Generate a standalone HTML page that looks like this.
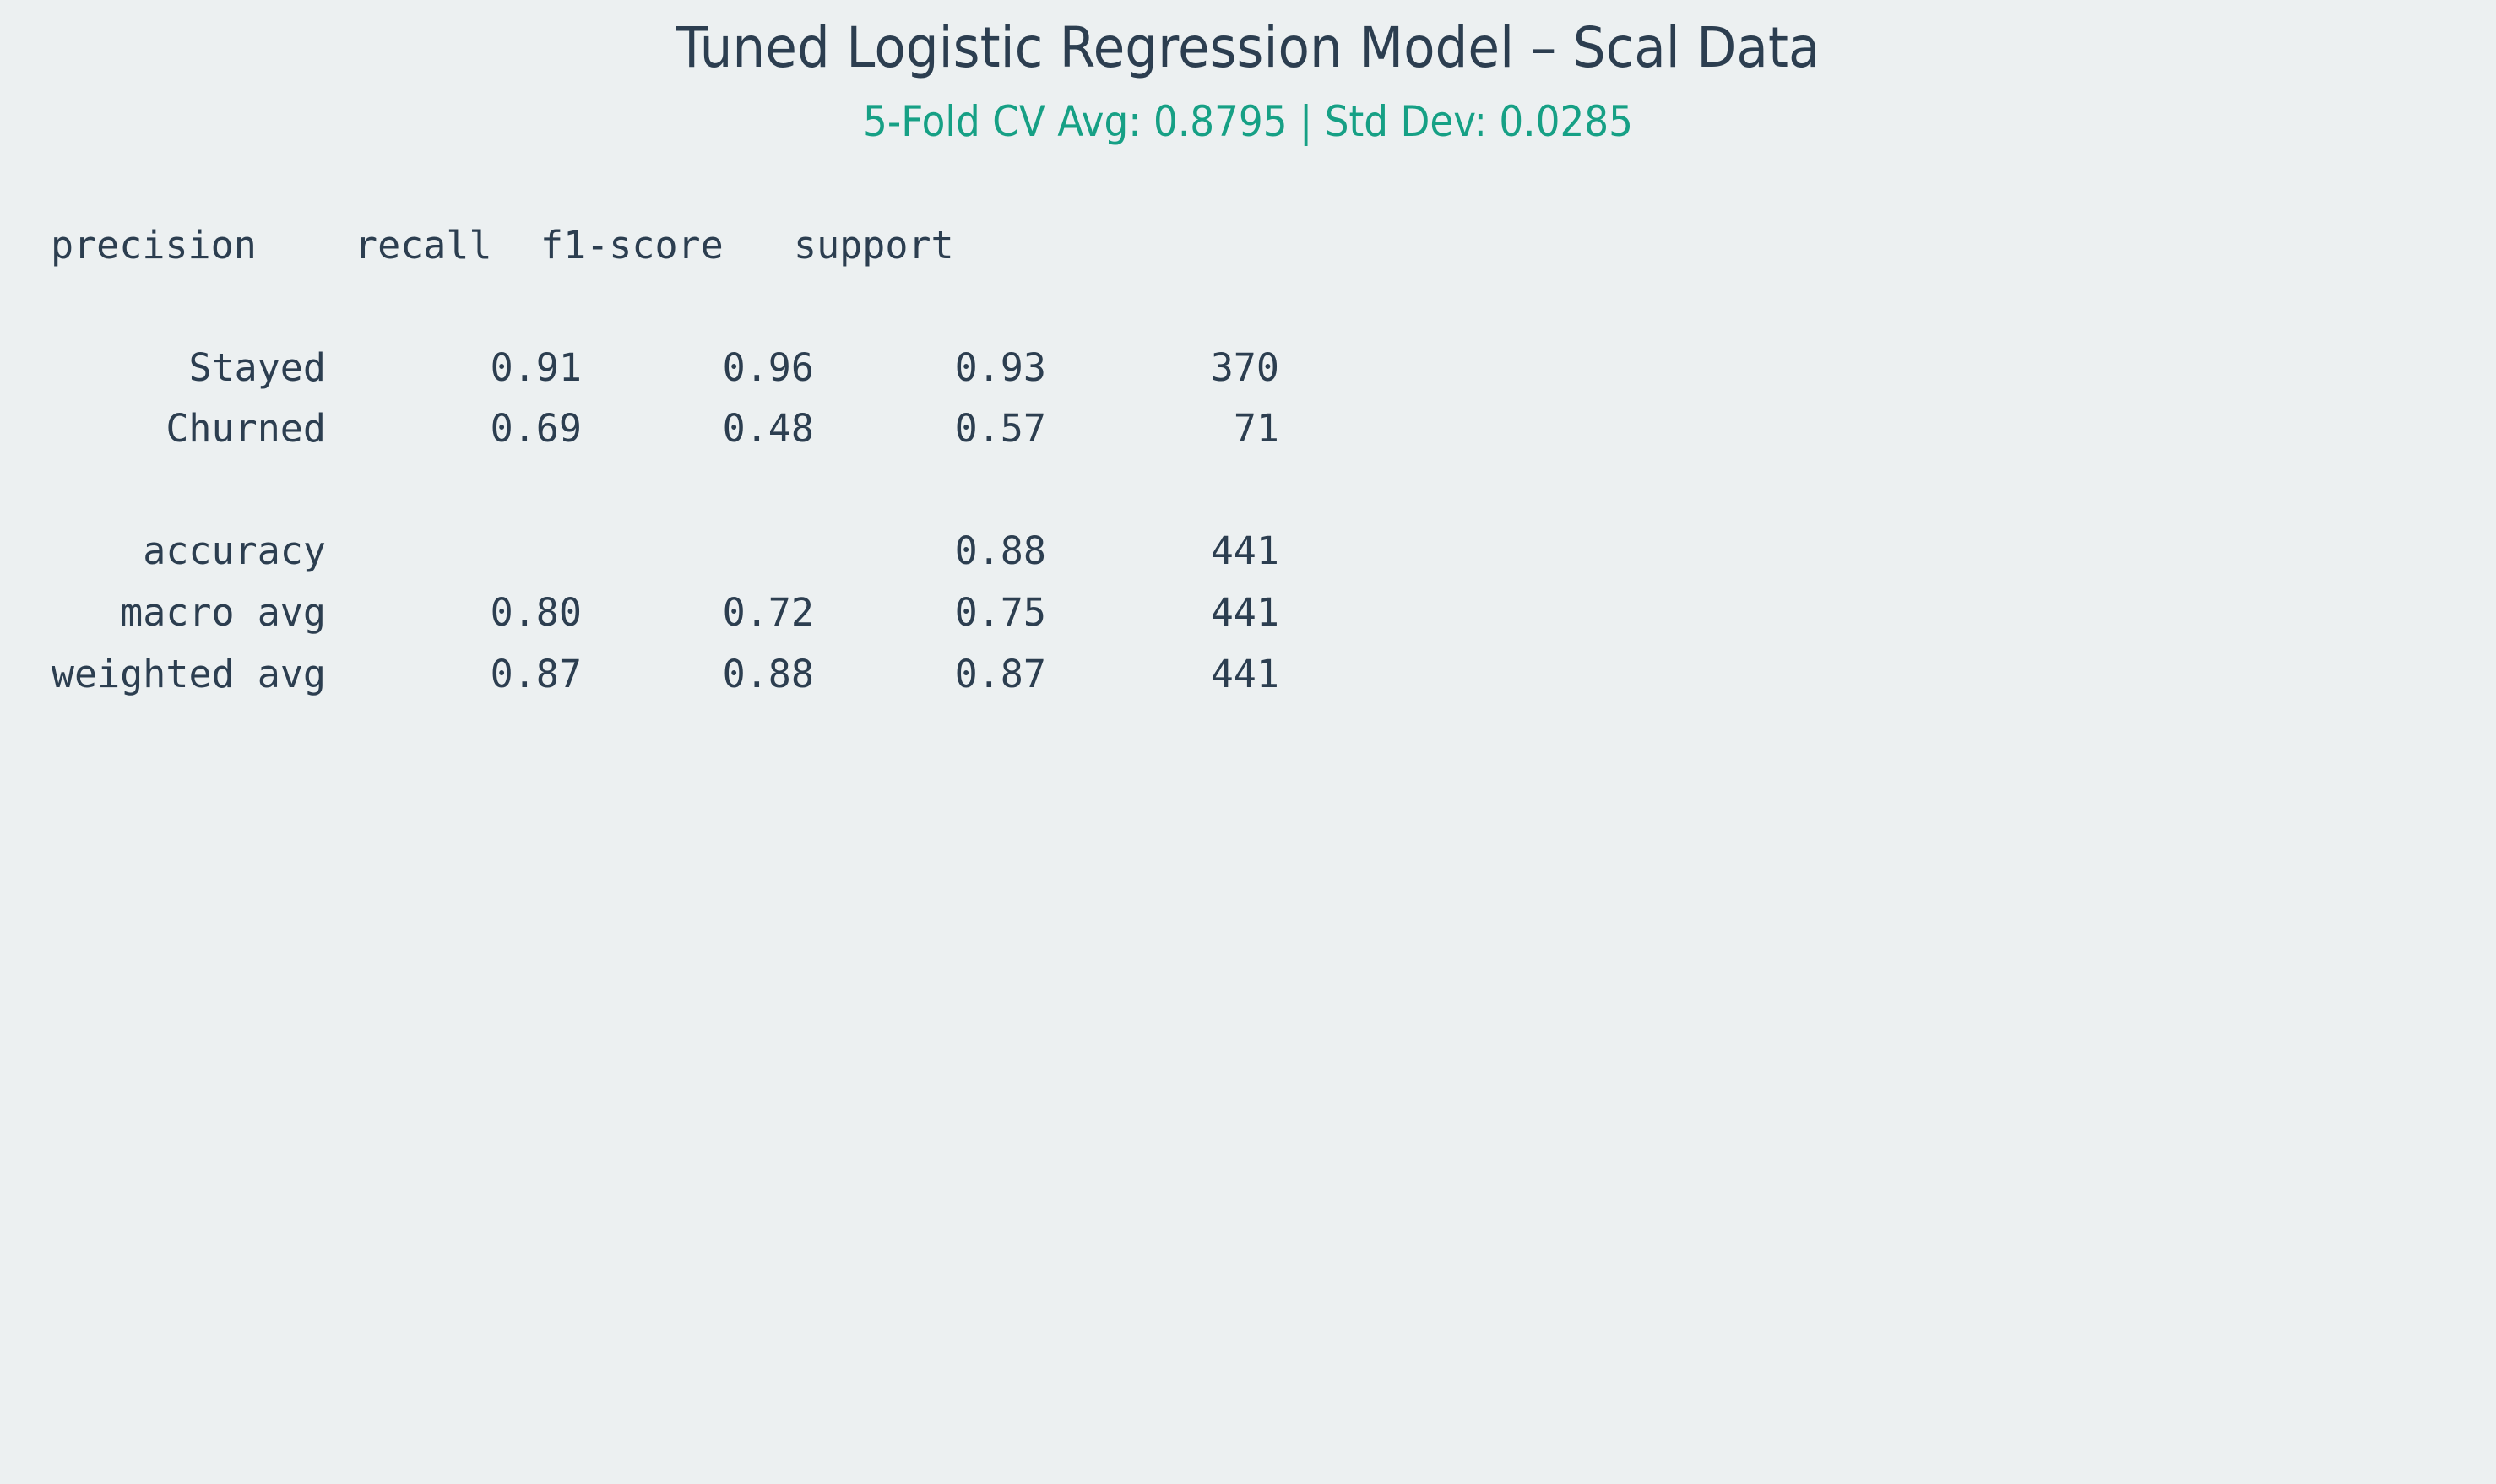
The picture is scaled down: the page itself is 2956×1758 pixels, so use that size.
<!DOCTYPE html>
<html><head><meta charset="utf-8"><style>
html,body{margin:0;padding:0;background:#ecf0f1;}
svg{display:block;}
</style></head><body>
<svg id="chart" width="2956" height="1758" viewBox="0 0 2956 1758" xmlns="http://www.w3.org/2000/svg">
<rect x="0" y="0" width="2956" height="1758" fill="#ecf0f1"/>
<text x="1478" y="79" text-anchor="middle" font-family="DejaVu Sans, Liberation Sans, sans-serif" font-size="66" fill="#2c3e50" textLength="1355" lengthAdjust="spacingAndGlyphs">Tuned Logistic Regression Model – Scal Data</text>
<text x="1478" y="161" text-anchor="middle" font-family="DejaVu Sans, Liberation Sans, sans-serif" font-size="50" fill="#16a085" textLength="912" lengthAdjust="spacingAndGlyphs">5-Fold CV Avg: 0.8795 | Std Dev: 0.0285</text>
<g id="report" font-family="DejaVu Sans Mono, Liberation Mono, monospace" font-size="45" fill="#2c3e50"></g>
</svg>
<script>
const headers = ["precision", "recall", "f1-score", "support"];
const rowLabels = ["Stayed", "Churned", "accuracy", "macro avg", "weighted avg"];
const precisionVals = ["0.91", "0.69", "", "0.80", "0.87"];
const recallVals = ["0.96", "0.48", "", "0.72", "0.88"];
const f1Vals = ["0.93", "0.57", "0.88", "0.75", "0.87"];
const supportVals = ["370", "71", "441", "441", "441"];

const NS = "http://www.w3.org/2000/svg";
const g = document.getElementById("report");
const headerX = [60, 420, 640, 940];
const headerY = 306;
const colRight = [386, 689, 964, 1239, 1515];
const rowY = [451, 523, 668, 741, 814];

function addText(x, y, str, anchor) {
  const t = document.createElementNS(NS, "text");
  t.setAttribute("x", x);
  t.setAttribute("y", y);
  t.setAttribute("text-anchor", anchor);
  t.textContent = str;
  g.appendChild(t);
  return t;
}
headers.forEach((h, i) => {
  const t = addText(headerX[i], headerY, h, "start");
  
  
});
const cols = [rowLabels, precisionVals, recallVals, f1Vals, supportVals];
const colNames = ["label", "precision", "recall", "f1", "support"];
rowLabels.forEach((r, ri) => {
  cols.forEach((col, ci) => {
    if (!col[ri]) return;
    const t = addText(colRight[ci], rowY[ri], col[ri], "end");
    
    
  });
});
</script>
</body></html>
